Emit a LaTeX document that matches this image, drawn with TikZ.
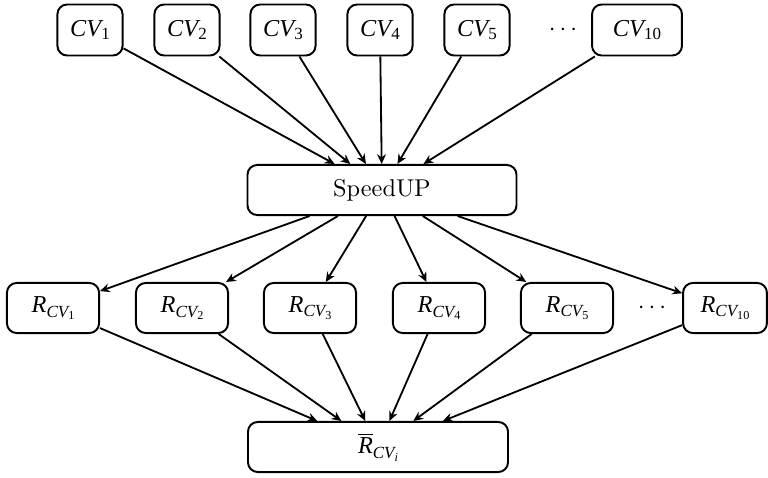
\documentclass[tikz,border=0pt]{standalone}
\usepackage{fontspec}
\newfontfamily\tms{Liberation Serif}
\usetikzlibrary{arrows.meta}
\newcommand\mycv[1]{{\tms\itshape CV}\raisebox{-1.6pt}{\fontsize{7}{8}\selectfont\tms #1}}
\newcommand\myrsub[1]{\raisebox{-2pt}{\fontsize{7}{8}\selectfont\tms\itshape CV\raisebox{-1.1pt}{\fontsize{5}{6}\selectfont #1}}}
\newcommand\myrcv[1]{{\tms\itshape R}\myrsub{\upshape #1}}
\begin{document}
\begin{tikzpicture}[x=0.4115pt,y=-0.4115pt,
  box/.style={draw, line width=0.8pt, rounded corners=4pt, minimum height=21pt, inner sep=0pt},
  rbox/.style={box, minimum height=20.6pt, minimum width=37.9pt},
  arr/.style={-{Stealth[length=4pt,width=3.6pt]}, line width=0.75pt}]
\useasboundingbox (0,0) rectangle (768,478);
% top row
\node[box, minimum width=26.8pt] (c1) at (90,30) {\mycv{1}};
\node[box, minimum width=26.8pt] (c2) at (187,30) {\mycv{2}};
\node[box, minimum width=26.8pt] (c3) at (283,30) {\mycv{3}};
\node[box, minimum width=26.8pt] (c4) at (380,30) {\mycv{4}};
\node[box, minimum width=26.8pt] (c5) at (477,30) {\mycv{5}};
\node (cd) at (563,30) {$\cdots$};
\node[box, minimum width=37pt] (c10) at (637,30) {\mycv{10}};
% middle
\node[box, minimum width=110.7pt, minimum height=20.6pt] (sp) at (382,190) {SpeedUP};
% R row
\node[rbox] (r1) at (53,308) {\myrcv{1}};
\node[rbox] (r2) at (182,308) {\myrcv{2}};
\node[rbox] (r3) at (310,308) {\myrcv{3}};
\node[rbox] (r4) at (439,308) {\myrcv{4}};
\node[rbox] (r5) at (567,308) {\myrcv{5}};
\node (rd) at (652,308) {$\cdots$};
\node[rbox, minimum width=34.5pt] (r10) at (725,308) {\myrcv{10}};
% bottom
\node[box, minimum width=107pt, minimum height=20.6pt] (rb) at (378,447) {$\overline{\mbox{\tms\itshape R}}$\myrsub{\itshape i}};
% arrows
\foreach \n in {c1,c2,c3,c4,c5,c10} \draw[arr] (\n) -- (sp);
\foreach \n in {r1,r2,r3,r4,r5,r10} \draw[arr] (sp) -- (\n);
\foreach \n in {r1,r2,r3,r4,r5,r10} \draw[arr] (\n) -- (rb);
\end{tikzpicture}
\end{document}
